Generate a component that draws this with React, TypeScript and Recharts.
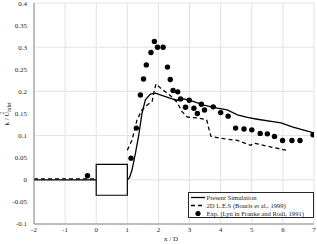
import React from 'react';
import {
  ComposedChart, Line, Scatter, XAxis, YAxis, CartesianGrid, ReferenceArea, Legend,
} from 'recharts';

// ---- Data ----
const xTicks = [-2, -1, 0, 1, 2, 3, 4, 5, 6, 7];
const yTicks = [-0.1, -0.05, 0, 0.05, 0.1, 0.15, 0.2, 0.25, 0.3, 0.35, 0.4];

const simX = [-2, 0, 0.5, 1.0, 1.07, 1.15, 1.26, 1.36, 1.47, 1.58, 1.74, 1.9, 2.06, 2.39, 2.6, 2.82, 3.14, 3.46, 3.89, 4.21, 4.54, 4.86, 5.18, 5.73, 5.94, 6.3, 6.7, 7.0];
const simK = [0, 0, null, 0, 0.005, 0.022, 0.06, 0.098, 0.15, 0.181, 0.194, 0.196, 0.192, 0.184, 0.18, 0.183, 0.177, 0.169, 0.162, 0.158, 0.147, 0.141, 0.137, 0.131, 0.129, 0.12, 0.112, 0.106];

const lesX = [-2, 0, 0.5, 1.0, 1.15, 1.31, 1.47, 1.64, 1.8, 1.86, 1.92, 2.06, 2.39, 2.6, 2.76, 2.93, 3.25, 3.55, 3.64, 3.69, 4.11, 4.54, 4.97, 5.07, 5.5, 6.1];
const lesK = [0.002, 0.002, null, 0.067, 0.09, 0.135, 0.158, 0.169, 0.178, 0.2, 0.217, 0.208, 0.19, 0.175, 0.154, 0.142, 0.14, 0.136, 0.11, 0.098, 0.093, 0.089, 0.078, 0.083, 0.076, 0.067];

const expX = [-0.28, 1.12, 1.29, 1.42, 1.52, 1.61, 1.76, 1.87, 1.97, 2.15, 2.29, 2.38, 2.47, 2.62, 2.71, 2.87, 2.99, 3.14, 3.25, 3.38, 3.48, 3.76, 4.0, 4.24, 4.48, 4.75, 5.0, 5.27, 5.5, 5.73, 5.99, 6.29, 6.55, 6.97];
const expK = [0.009, 0.049, 0.117, 0.192, 0.228, 0.26, 0.288, 0.313, 0.3, 0.3, 0.255, 0.227, 0.202, 0.199, 0.183, 0.164, 0.18, 0.162, 0.15, 0.171, 0.158, 0.165, 0.152, 0.144, 0.117, 0.115, 0.113, 0.105, 0.104, 0.098, 0.089, 0.089, 0.089, 0.102];

const cylinder = { x1: 0, x2: 1, y1: -0.035, y2: 0.035 };
const seriesNames = ['Present Simulation', '2D L.E.S (Bouris et al., 1999)', 'Exp. (Lyn in Franke and Rodi, 1991)'];

const simData = simX.map((x, i) => ({ x, y: simK[i] }));
const lesData = lesX.map((x, i) => ({ x, y: lesK[i] }));
const expData = expX.map((x, i) => ({ x, y: expK[i] }));

const FONT = '"Liberation Serif", "DejaVu Serif", serif';
const FRAME = '#8a8a8a';
const TXT = '#262626';

const fmtY = (v: number) => String(Math.round(v * 100) / 100);

const Dot = (props: any) => <circle cx={props.cx} cy={props.cy} r={2.7} fill="#000" />;

const renderLegend = () => (
  <svg width={126} height={26} style={{ display: 'block' }}>
    <rect x={0.5} y={0.5} width={125} height={25} fill="#fff" stroke="#262626" strokeWidth={1} />
    <line x1={3} y1={5.5} x2={17} y2={5.5} stroke="#000" strokeWidth={1.3} />
    <line x1={3} y1={13.5} x2={17} y2={13.5} stroke="#000" strokeWidth={1.3} strokeDasharray="4 3" />
    <circle cx={10} cy={21.5} r={2.6} fill="#000" />
    {seriesNames.map((n, i) => (
      <text key={n} x={18.5} y={7.8 + i * 8.2} fontFamily={FONT} fontSize={6.6} fill={TXT}>{n}</text>
    ))}
  </svg>
);

const YLabel = () => (
  <text
    x={8.5}
    y={114}
    transform="rotate(-90, 8.5, 114)"
    textAnchor="middle"
    fontFamily={FONT}
    fontSize={7}
    fill={TXT}
  >
    k / U
    <tspan fontSize={5.2} dy={2}>inlet</tspan>
    <tspan fontSize={5.2} dx={-12} dy={-6.5}>2</tspan>
  </text>
);

const XLabel = (props: any) => (
  <text x={171} y={240.5} textAnchor="middle" fontFamily={FONT} fontSize={7} fill={TXT}>x / D</text>
);

export default function App() {
  return (
    <div style={{ position: 'absolute', left: 0, top: 0, width: 317, height: 244, background: '#fff' }}>
      <ComposedChart width={317} height={244} margin={{ top: 3, right: 3, bottom: 0, left: 0 }}>
        <CartesianGrid stroke="#e2e2e2" strokeWidth={1} />
        <XAxis
          dataKey="x"
          type="number"
          domain={[-2, 7]}
          ticks={xTicks}
          allowDataOverflow
          height={20}
          tickLine={false}
          tickSize={1}
          tickMargin={2}
          axisLine={{ stroke: FRAME }}
          tick={{ fontFamily: FONT, fontSize: 7, fill: TXT }}
          label={<XLabel />}
        />
        <YAxis
          dataKey="y"
          type="number"
          domain={[-0.1, 0.4]}
          ticks={yTicks}
          allowDataOverflow
          width={34}
          tickLine={false}
          tickSize={5}
          tickMargin={2}
          tickFormatter={fmtY}
          axisLine={{ stroke: FRAME }}
          tick={{ fontFamily: FONT, fontSize: 7, fill: TXT }}
          label={<YLabel />}
        />
        <XAxis xAxisId="bm" orientation="bottom" type="number" domain={[-2, 7]} ticks={xTicks} mirror height={0} tick={false} tickSize={3} tickLine={{ stroke: FRAME }} axisLine={{ stroke: FRAME }} />
        <XAxis xAxisId="top" orientation="top" type="number" domain={[-2, 7]} ticks={xTicks} mirror height={0} tick={false} tickSize={3} tickLine={{ stroke: FRAME }} axisLine={{ stroke: FRAME }} />
        <YAxis yAxisId="lm" orientation="left" type="number" domain={[-0.1, 0.4]} ticks={yTicks} mirror width={0} tick={false} tickSize={3} tickLine={{ stroke: FRAME }} axisLine={{ stroke: FRAME }} />
        <YAxis yAxisId="right" orientation="right" type="number" domain={[-0.1, 0.4]} ticks={yTicks} mirror width={0} tick={false} tickSize={3} tickLine={{ stroke: FRAME }} axisLine={{ stroke: FRAME }} />
        <ReferenceArea {...cylinder} fill="#fff" fillOpacity={1} stroke="#000" strokeWidth={1.2} />
        <Line data={simData} dataKey="y" type="linear" stroke="#000" strokeWidth={1.3} dot={false} connectNulls={false} isAnimationActive={false} />
        <Line data={lesData} dataKey="y" type="linear" stroke="#000" strokeWidth={1.3} strokeDasharray="4 3" dot={false} connectNulls={false} isAnimationActive={false} />
        <Scatter data={expData} dataKey="y" fill="#000" shape={<Dot />} isAnimationActive={false} />
        <Legend
          layout="vertical"
          align="center"
          verticalAlign="middle"
          content={renderLegend}
          wrapperStyle={{ position: 'absolute', left: 188, top: 192, width: 126, height: 26 }}
        />
      </ComposedChart>
    </div>
  );
}
